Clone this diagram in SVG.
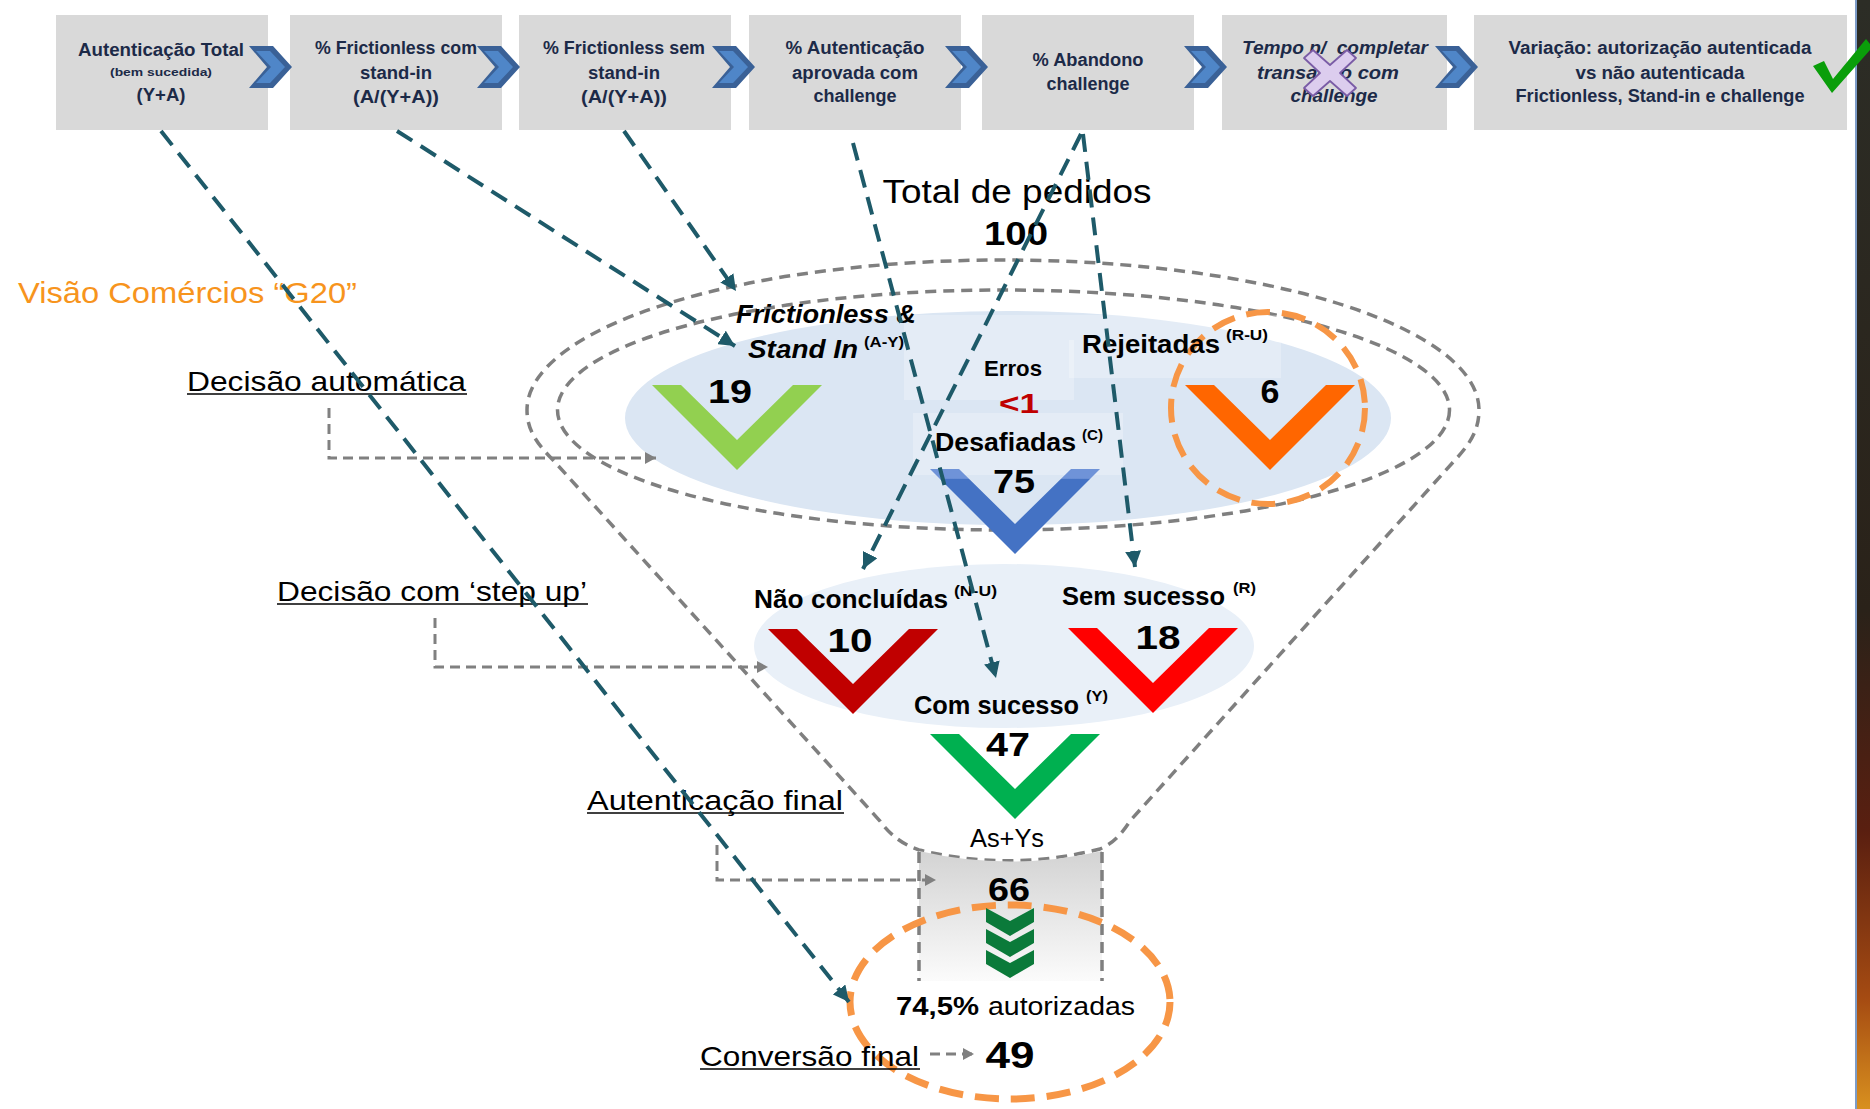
<svg xmlns="http://www.w3.org/2000/svg" width="1870" height="1109" viewBox="0 0 1870 1109">
<defs>
<style>
.box{fill:#d9d9d9}
.bt{font-family:'Liberation Sans',Arial,sans-serif;font-weight:bold;font-size:18px;fill:#1c2a48;text-anchor:middle}
.bti{font-style:italic}
.lb{font-family:'Liberation Sans',Arial,sans-serif;font-weight:bold;font-size:25px;fill:#000}
.sup{font-family:'Liberation Sans',Arial,sans-serif;font-weight:bold;font-size:14px;fill:#000}
.num{font-family:'Liberation Sans',Arial,sans-serif;font-weight:bold;font-size:34px;fill:#000;text-anchor:middle}
.reg{font-family:'Liberation Sans',Arial,sans-serif;font-size:28px;fill:#000}
.ul{stroke:#000;stroke-width:1.6}
.gd{fill:none;stroke:#7f7f7f;stroke-width:3.5;stroke-dasharray:11 7}
.ga{fill:none;stroke:#808080;stroke-width:3;stroke-dasharray:10 6}
.tc{fill:none;stroke:#1e5a69;stroke-width:4;stroke-dasharray:18 10}
.od{fill:none;stroke:#f79646;stroke-dasharray:24 12}
.tb{fill:#ffffff;opacity:0.25}
</style>
<linearGradient id="neck" x1="0" y1="0" x2="0" y2="1">
<stop offset="0" stop-color="#d3d3d3"/>
<stop offset="1" stop-color="#fbfbfb"/>
</linearGradient>
<linearGradient id="strip" x1="0" y1="0" x2="0" y2="1">
<stop offset="0" stop-color="#2c2d26"/>
<stop offset="0.55" stop-color="#2a2219"/>
<stop offset="0.75" stop-color="#5a1f10"/>
<stop offset="0.9" stop-color="#a54b12"/>
<stop offset="1" stop-color="#d8901f"/>
</linearGradient>
<linearGradient id="blueV" x1="0" y1="0" x2="0" y2="1">
<stop offset="0" stop-color="#6f93d8"/>
<stop offset="0.11" stop-color="#6f93d8"/>
<stop offset="0.12" stop-color="#4472c4"/>
<stop offset="1" stop-color="#4472c4"/>
</linearGradient>
<g id="chev">
<polygon points="0,46 24,46 43,67 24,88 0,88 18,67" fill="#3a6197"/>
<polygon points="7,51 21,51 36,67 21,83 7,83 22,67" fill="#4f86c8"/>
</g>
<polygon id="vshape" points="-85,0 -56,0 0,55 56,0 85,0 0,85"/>
<polygon id="gchev" points="-24,0 0,13 24,0 24,14 0,28 -24,14"/>
<marker id="ta" markerWidth="18" markerHeight="16" refX="16" refY="8" orient="auto" markerUnits="userSpaceOnUse">
<path d="M0,0 L16,8 L0,16 Z" fill="#1e5a69"/>
</marker>
<marker id="ga" markerWidth="12" markerHeight="12" refX="11" refY="6" orient="auto" markerUnits="userSpaceOnUse">
<path d="M0,0 L11,6 L0,12 Z" fill="#808080"/>
</marker>
</defs>

<rect width="1870" height="1109" fill="#ffffff"/>

<!-- right edge strip -->
<g id="edge">
<rect x="1857" y="0" width="13" height="1109" fill="url(#strip)"/>
<rect x="1855" y="0" width="2" height="1109" fill="#7d9cc8"/>
</g>

<!-- top process boxes -->
<g id="box1"><rect class="box" x="56" y="15" width="212" height="115"/>
<text class="bt" x="161" y="56" textLength="166" lengthAdjust="spacingAndGlyphs">Autenticação Total</text>
<text class="bt" x="161" y="76" style="font-size:11.5px" textLength="102" lengthAdjust="spacingAndGlyphs">(bem sucedida)</text>
<text class="bt" x="161" y="101" textLength="49" lengthAdjust="spacingAndGlyphs">(Y+A)</text></g>
<g id="box2"><rect class="box" x="290" y="15" width="212" height="115"/>
<text class="bt" x="396" y="54" textLength="162" lengthAdjust="spacingAndGlyphs">% Frictionless com</text>
<text class="bt" x="396" y="79" textLength="72" lengthAdjust="spacingAndGlyphs">stand-in</text>
<text class="bt" x="396" y="103" textLength="86" lengthAdjust="spacingAndGlyphs">(A/(Y+A))</text></g>
<g id="box3"><rect class="box" x="519" y="15" width="212" height="115"/>
<text class="bt" x="624" y="54" textLength="162" lengthAdjust="spacingAndGlyphs">% Frictionless sem</text>
<text class="bt" x="624" y="79" textLength="72" lengthAdjust="spacingAndGlyphs">stand-in</text>
<text class="bt" x="624" y="103" textLength="86" lengthAdjust="spacingAndGlyphs">(A/(Y+A))</text></g>
<g id="box4"><rect class="box" x="749" y="15" width="212" height="115"/>
<text class="bt" x="855" y="54" textLength="139" lengthAdjust="spacingAndGlyphs">% Autenticação</text>
<text class="bt" x="855" y="79" textLength="126" lengthAdjust="spacingAndGlyphs">aprovada com</text>
<text class="bt" x="855" y="102" textLength="83" lengthAdjust="spacingAndGlyphs">challenge</text></g>
<g id="box5"><rect class="box" x="982" y="15" width="212" height="115"/>
<text class="bt" x="1088" y="66" textLength="111" lengthAdjust="spacingAndGlyphs">% Abandono</text>
<text class="bt" x="1088" y="90" textLength="83" lengthAdjust="spacingAndGlyphs">challenge</text></g>
<g id="box6"><rect class="box" x="1222" y="15" width="225" height="115"/>
<text class="bt bti" x="1335" y="54" textLength="186" lengthAdjust="spacingAndGlyphs" xml:space="preserve">Tempo p/  completar</text>
<text class="bt bti" x="1328" y="79" textLength="142" lengthAdjust="spacingAndGlyphs">transação com</text>
<text class="bt bti" x="1334" y="102" textLength="87" lengthAdjust="spacingAndGlyphs">challenge</text>
<polygon points="1304,58 1313,50 1330,65 1347,50 1356,58 1340,73 1356,88 1347,96 1330,81 1313,96 1304,88 1320,73" fill="#dccdee" stroke="#7a5ca6" stroke-width="1.8" stroke-linejoin="round"/></g>
<g id="box7"><rect class="box" x="1474" y="15" width="373" height="115"/>
<text class="bt" x="1660" y="54" textLength="303" lengthAdjust="spacingAndGlyphs">Variação: autorização autenticada</text>
<text class="bt" x="1660" y="79" textLength="169" lengthAdjust="spacingAndGlyphs">vs não autenticada</text>
<text class="bt" x="1660" y="102" textLength="289" lengthAdjust="spacingAndGlyphs">Frictionless, Stand-in e challenge</text></g>

<g id="chevrons">
<use href="#chev" x="249"/>
<use href="#chev" x="477"/>
<use href="#chev" x="712"/>
<use href="#chev" x="945"/>
<use href="#chev" x="1184"/>
<use href="#chev" x="1435"/>
</g>
<g id="check"><polygon points="1813,66 1824,61 1833,79 1866,39 1870,44 1870,50 1832,93" fill="#0a9e0a"/></g>

<!-- funnel -->
<g id="funnel">
<path class="gd" d="M880 821 L553 460 C535 442 527 428 527 410 A476 150 0 0 1 1479 410 C1479 428 1472 442 1455 460 L1130 821 Q1117 842 1100 849 Q1010 872 919 850 Q895 842 880 821 Z"/>
<ellipse cx="1008" cy="418" rx="383" ry="107" fill="#dbe6f3"/>
<ellipse cx="1004" cy="646" rx="250" ry="82" fill="#e9f0f8"/>
<ellipse class="gd" cx="1003.5" cy="410" rx="446" ry="120"/>
<path d="M919 851 Q1010 872 1102 851 L1102 981 L919 981 Z" fill="url(#neck)"/>
<line class="gd" x1="919" y1="852" x2="919" y2="981"/>
<line class="gd" x1="1102" y1="852" x2="1102" y2="981"/>
</g>

<g id="labelbg">
<rect class="tb" x="904" y="315" width="165" height="25"/>
<rect class="tb" x="904" y="340" width="170" height="60"/>
<rect class="tb" x="913" y="413" width="210" height="62"/>
<rect class="tb" x="1069" y="315" width="212" height="63"/>
</g>

<text class="num" x="1016" y="245" textLength="64" lengthAdjust="spacingAndGlyphs">100</text>
<text class="reg" x="1017" y="203" style="font-size:34px;text-anchor:middle" textLength="269" lengthAdjust="spacingAndGlyphs">Total de pedidos</text>

<g id="frictionless">
<use href="#vshape" x="737" y="385" fill="#92d050"/>
<text class="lb" x="736" y="323" style="font-style:italic" textLength="180" lengthAdjust="spacingAndGlyphs">Frictionless &amp;</text>
<text class="lb" x="748" y="358" style="font-style:italic" textLength="110" lengthAdjust="spacingAndGlyphs">Stand In</text>
<text class="sup" x="864" y="347" textLength="40" lengthAdjust="spacingAndGlyphs">(A-Y)</text>
<text class="num" x="730" y="403" textLength="44" lengthAdjust="spacingAndGlyphs">19</text>
</g>
<g id="erros">
<text class="lb" x="1013" y="376" style="font-size:22px;text-anchor:middle" textLength="58" lengthAdjust="spacingAndGlyphs">Erros</text>
<text class="num" x="1019" y="413" style="font-size:28px;fill:#c00000" textLength="40" lengthAdjust="spacingAndGlyphs">&lt;1</text>
</g>
<g id="rejeitadas">
<ellipse class="od" cx="1268" cy="408" rx="97" ry="96" stroke-width="6"/>
<use href="#vshape" x="1270" y="385" fill="#ff6600"/>
<text class="lb" x="1082" y="353" textLength="138" lengthAdjust="spacingAndGlyphs">Rejeitadas</text>
<text class="sup" x="1226" y="340" textLength="42" lengthAdjust="spacingAndGlyphs">(R-U)</text>
<text class="num" x="1270" y="403">6</text>
</g>
<g id="desafiadas">
<use href="#vshape" x="1015" y="469" fill="url(#blueV)"/>
<text class="lb" x="935" y="451" textLength="141" lengthAdjust="spacingAndGlyphs">Desafiadas</text>
<text class="sup" x="1082" y="440" textLength="21" lengthAdjust="spacingAndGlyphs">(C)</text>
<text class="num" x="1014" y="493" textLength="42" lengthAdjust="spacingAndGlyphs">75</text>
</g>
<g id="naoconcluidas">
<use href="#vshape" x="853" y="629" fill="#c00000"/>
<text class="lb" x="754" y="608" textLength="194" lengthAdjust="spacingAndGlyphs">Não concluídas</text>
<text class="sup" x="954" y="596" textLength="43" lengthAdjust="spacingAndGlyphs">(N-U)</text>
<text class="num" x="850" y="652" textLength="45" lengthAdjust="spacingAndGlyphs">10</text>
</g>
<g id="semsucesso">
<use href="#vshape" x="1153" y="628" fill="#ff0000"/>
<text class="lb" x="1062" y="605" textLength="163" lengthAdjust="spacingAndGlyphs">Sem sucesso</text>
<text class="sup" x="1233" y="593" textLength="23" lengthAdjust="spacingAndGlyphs">(R)</text>
<text class="num" x="1158" y="649" textLength="45" lengthAdjust="spacingAndGlyphs">18</text>
</g>
<g id="comsucesso">
<use href="#vshape" x="1015" y="734" fill="#00b050"/>
<text class="lb" x="914" y="714" textLength="165" lengthAdjust="spacingAndGlyphs">Com sucesso</text>
<text class="sup" x="1086" y="701" textLength="22" lengthAdjust="spacingAndGlyphs">(Y)</text>
<text class="num" x="1008" y="756" textLength="44" lengthAdjust="spacingAndGlyphs">47</text>
</g>
<g id="asys">
<text class="reg" x="1007" y="847" style="font-size:26px;text-anchor:middle" textLength="74" lengthAdjust="spacingAndGlyphs">As+Ys</text>
<text class="num" x="1009" y="901" textLength="42" lengthAdjust="spacingAndGlyphs">66</text>
</g>
<g id="final">
<ellipse class="od" cx="1010" cy="1002" rx="160" ry="97" stroke-width="7" stroke-dasharray="26 13"/>
<use href="#gchev" x="1010" y="908" fill="#0b7a3a"/>
<use href="#gchev" x="1010" y="929" fill="#0b7a3a"/>
<use href="#gchev" x="1010" y="950" fill="#0b7a3a"/>
<text class="lb" x="896" y="1015" style="font-size:26px" textLength="83" lengthAdjust="spacingAndGlyphs">74,5%</text>
<text class="reg" x="988" y="1015" style="font-size:26px" textLength="147" lengthAdjust="spacingAndGlyphs">autorizadas</text>
<text class="num" x="1010" y="1068" style="font-size:36px" textLength="49" lengthAdjust="spacingAndGlyphs">49</text>
</g>

<!-- side labels -->
<g id="side">
<text class="reg" x="18" y="303" style="font-size:30px;fill:#f7941d" textLength="339" lengthAdjust="spacingAndGlyphs">Visão Comércios “G20”</text>
<text class="reg" x="187" y="391" textLength="279" lengthAdjust="spacingAndGlyphs">Decisão automática</text>
<line class="ul" x1="187" y1="394" x2="467" y2="394"/>
<text class="reg" x="277" y="601" textLength="310" lengthAdjust="spacingAndGlyphs">Decisão com ‘step up’</text>
<line class="ul" x1="277" y1="604" x2="588" y2="604"/>
<text class="reg" x="587" y="810" textLength="256" lengthAdjust="spacingAndGlyphs">Autenticação final</text>
<line class="ul" x1="587" y1="813" x2="844" y2="813"/>
<text class="reg" x="700" y="1066" textLength="219" lengthAdjust="spacingAndGlyphs">Conversão final</text>
<line class="ul" x1="700" y1="1069" x2="920" y2="1069"/>
</g>

<!-- connectors -->
<g id="connectors">
<path class="ga" d="M329 408 V458 H656" marker-end="url(#ga)"/>
<path class="ga" d="M435 618 V667 H768" marker-end="url(#ga)"/>
<path class="ga" d="M717 845 V880 H936" marker-end="url(#ga)"/>
<path class="ga" d="M930 1054 H974" marker-end="url(#ga)"/>
<line class="tc" x1="161" y1="131" x2="849" y2="1002" marker-end="url(#ta)"/>
<line class="tc" x1="397" y1="131" x2="735" y2="346" marker-end="url(#ta)"/>
<line class="tc" x1="624" y1="131" x2="736" y2="291" marker-end="url(#ta)"/>
<line class="tc" x1="853" y1="143" x2="996" y2="678" marker-end="url(#ta)"/>
<line class="tc" x1="1081" y1="134" x2="863" y2="569" marker-end="url(#ta)"/>
<line class="tc" x1="1083" y1="134" x2="1135" y2="567" marker-end="url(#ta)"/>
</g>
</svg>
